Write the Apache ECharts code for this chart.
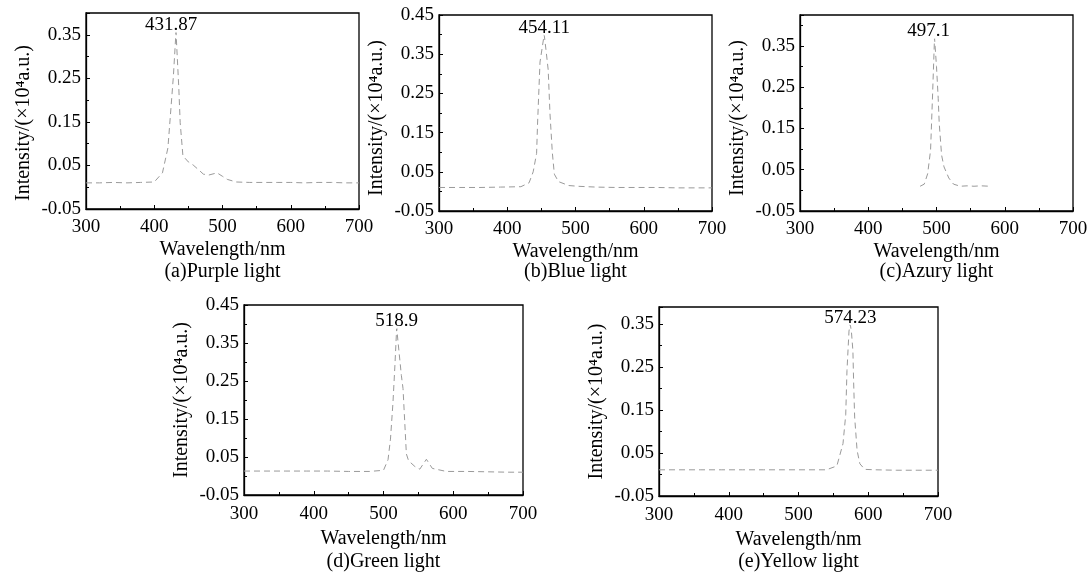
<!DOCTYPE html>
<html><head><meta charset="utf-8">
<script src="https://cdn.jsdelivr.net/npm/echarts@6/dist/echarts.min.js"></script>
<style>html,body{margin:0;padding:0;background:#fff}#c{width:1091px;height:572px}</style>
</head><body><div id="c"></div>
<script>
// ---------- data ----------
const captions = ['(a)Purple light', '(b)Blue light', '(c)Azury light', '(d)Green light', '(e)Yellow light'];
const xTickValues = [300, 400, 500, 600, 700];
const yTickLabels = ['-0.05', '0.05', '0.15', '0.25', '0.35', '0.45'];
const yMaxes = [0.40, 0.45, 0.425, 0.45, 0.39];

const peakWavelengths = [431.87, 454.11, 497.1, 518.9, 574.23];
const peakIntensities = [0.357, 0.400, 0.370, 0.390, 0.350];
const peakLabels = ['431.87', '454.11', '497.1', '518.9', '574.23'];

const purpleWl = [300, 320, 340, 360, 380, 400, 412, 420, 428, 431.87, 436, 438, 442, 450, 457, 465, 472, 480, 492, 500, 507, 520, 540, 560, 580, 600, 620, 640, 660, 680, 700];
const purpleI  = [0.010, 0.010, 0.011, 0.010, 0.011, 0.012, 0.033, 0.090, 0.254, 0.357, 0.227, 0.148, 0.072, 0.058, 0.051, 0.040, 0.030, 0.028, 0.033, 0.025, 0.018, 0.012, 0.011, 0.011, 0.011, 0.011, 0.010, 0.011, 0.011, 0.010, 0.010];

const blueWl = [300, 330, 360, 390, 420, 432, 438, 443, 444.5, 448, 454.11, 456.7, 460, 462.6, 466, 469, 475, 490, 504, 530, 560, 590, 620, 650, 680, 700];
const blueI  = [0.010, 0.010, 0.010, 0.011, 0.012, 0.022, 0.050, 0.097, 0.177, 0.330, 0.400, 0.362, 0.310, 0.199, 0.100, 0.044, 0.025, 0.015, 0.013, 0.011, 0.010, 0.010, 0.010, 0.009, 0.009, 0.009];

const azuryWl = [476, 482, 487, 491.3, 494, 497.1, 500, 502.5, 504, 507.5, 511, 518, 525, 535, 545, 555, 565, 578];
const azuryI  = [0.010, 0.015, 0.040, 0.097, 0.220, 0.370, 0.300, 0.223, 0.162, 0.085, 0.057, 0.030, 0.015, 0.010, 0.011, 0.010, 0.011, 0.010];

const greenWl = [300, 330, 360, 390, 420, 450, 480, 500, 506.5, 510, 513.6, 516.5, 518.9, 521, 525.6, 528, 532.8, 536, 545, 552, 561.5, 570, 590, 620, 650, 680, 700];
const greenI  = [0.013, 0.013, 0.013, 0.013, 0.013, 0.012, 0.012, 0.015, 0.043, 0.097, 0.194, 0.296, 0.390, 0.350, 0.265, 0.230, 0.058, 0.040, 0.025, 0.018, 0.044, 0.020, 0.012, 0.012, 0.011, 0.010, 0.010];

const yellowWl = [300, 330, 360, 390, 420, 450, 480, 510, 540, 555, 563.8, 567.7, 569.5, 572.4, 574.23, 576, 578, 579, 580.5, 584, 588, 595, 610, 640, 670, 700];
const yellowI  = [0.011, 0.011, 0.011, 0.011, 0.011, 0.011, 0.011, 0.011, 0.011, 0.020, 0.072, 0.139, 0.242, 0.334, 0.350, 0.330, 0.288, 0.218, 0.134, 0.056, 0.025, 0.012, 0.011, 0.010, 0.010, 0.010];

const spectraWl = [purpleWl, blueWl, azuryWl, greenWl, yellowWl];
const spectraI = [purpleI, blueI, azuryI, greenI, yellowI];

// ---------- layout (pixels) ----------
const grids = [
  {left: 86,  top: 13,  width: 273, height: 196},
  {left: 439, top: 15,  width: 273, height: 196},
  {left: 800, top: 15,  width: 273, height: 196},
  {left: 244, top: 305, width: 279, height: 190},
  {left: 659, top: 307, width: 279, height: 189}
];
const captionY = [272, 272, 272, 562, 562];
const xLabelMargin = [9, 9, 9, 10, 10];
const xNameGap = [31, 31, 31, 34, 34];
const yNameShift = [12, 5, 5, 0, 0];
const peakLabelDx = [-5, 0, -6, 0, 0];

const FONT = '"Liberation Serif", "DejaVu Serif", serif';
const FS = 19;
const FS_NAME = 20;

const option = {
  animation: false,
  backgroundColor: '#fff',
  grid: grids.map(g => Object.assign({show: true, borderColor: '#000', borderWidth: 1.3, backgroundColor: 'transparent', containLabel: false, outerBoundsMode: 'none'}, g)),
  xAxis: grids.map((g, i) => ({
    type: 'value', gridIndex: i, min: xTickValues[0], max: xTickValues[xTickValues.length - 1], interval: 100,
    name: 'Wavelength/nm', nameLocation: 'middle', nameGap: xNameGap[i],
    nameTextStyle: {fontFamily: FONT, fontSize: FS_NAME, color: '#000'},
    axisLine: {show: true, onZero: false, lineStyle: {color: '#000', width: 1.3}},
    axisTick: {show: true, inside: true, length: 4, lineStyle: {color: '#000'}},
    minorTick: {show: true, splitNumber: 2, length: 3, lineStyle: {color: '#000'}},
    splitLine: {show: false},
    axisLabel: {fontFamily: FONT, fontSize: FS, color: '#000', margin: xLabelMargin[i]}
  })),
  yAxis: grids.map((g, i) => ({
    type: 'value', gridIndex: i, min: -0.05, max: yMaxes[i], interval: 0.1,
    name: 'Intensity/(×10⁴a.u.)', nameLocation: 'middle', nameGap: 52,
    nameTextStyle: {fontFamily: FONT, fontSize: FS_NAME, color: '#000', padding: [0, 2 * yNameShift[i], 0, 0]},
    axisLine: {show: true, onZero: false, lineStyle: {color: '#000', width: 1.3}},
    axisTick: {show: true, inside: true, length: 4, lineStyle: {color: '#000'}},
    minorTick: {show: true, splitNumber: 2, length: 3, lineStyle: {color: '#000'}},
    splitLine: {show: false},
    axisLabel: {
      fontFamily: FONT, fontSize: FS, color: '#000', margin: 5,
      formatter: v => {
        const s = v.toFixed(2);
        return yTickLabels.indexOf(s) >= 0 ? s : '';
      }
    }
  })),
  series: [],
  graphic: captions.map((c, i) => ({
    type: 'text', x: grids[i].left + grids[i].width / 2, y: captionY[i],
    style: {text: c, font: FS_NAME + 'px ' + FONT, fill: '#000', align: 'center', verticalAlign: 'middle'}
  }))
};

for (let i = 0; i < 5; i++) {
  option.series.push({
    type: 'line', xAxisIndex: i, yAxisIndex: i, showSymbol: false, symbol: 'none',
    lineStyle: {color: '#9a9a9a', width: 1, type: [6, 4]},
    data: spectraWl[i].map((w, k) => [w, spectraI[i][k]])
  });
  option.series.push({
    type: 'scatter', xAxisIndex: i, yAxisIndex: i, symbolSize: 2, z: 5,
    itemStyle: {color: '#fff', opacity: 1},
    label: {show: true, position: 'top', distance: -4, offset: [peakLabelDx[i], 0], formatter: peakLabels[i],
            fontFamily: FONT, fontSize: 19, color: '#000', textBorderWidth: 0, opacity: 1},
    emphasis: {disabled: true},
    data: [[peakWavelengths[i], peakIntensities[i]]]
  });
}

const chart = echarts.init(document.getElementById('c'), null, {renderer: 'canvas'});
chart.setOption(option);
</script></body></html>
